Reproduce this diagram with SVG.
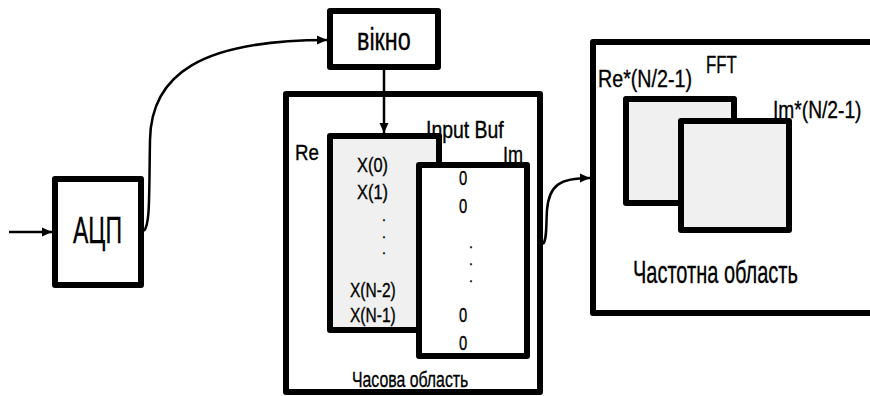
<svg xmlns="http://www.w3.org/2000/svg" width="870" height="396" viewBox="0 0 870 396">
<style>
.box{fill:#fff;stroke:#000;stroke-width:6;stroke-linejoin:round}
.gray{fill:#f0f0f0}
.t{font-family:"Liberation Sans",Arial,sans-serif;fill:#000;stroke:#000;stroke-width:0.35}
.conn{fill:none;stroke:#000;stroke-width:2.5}
</style>
<defs>
<marker id="arr" markerUnits="userSpaceOnUse" markerWidth="12" markerHeight="10" refX="10" refY="5" orient="auto">
<path d="M0,0.5 L10,5 L0,9.5 Z" fill="#000"/>
</marker>
</defs>
<rect width="870" height="396" fill="#fff"/>

<g id="time-domain">
<rect class="box" x="286" y="94" width="254" height="298"/>
<text class="t" font-size="22" transform="matrix(0.72,0,0,1,352,387)">Часова область</text>
</g>

<g id="freq-domain">
<rect class="box" x="593" y="42" width="300" height="271"/>
<text class="t" font-size="31" transform="matrix(0.645,0,0,1,633,283)">Частотна область</text>
</g>

<g id="adc">
<rect class="box" x="55" y="179" width="86" height="106"/>
<text class="t" font-size="36" transform="matrix(0.64,0,0,1,73,243)">АЦП</text>
</g>

<g id="window">
<rect class="box" x="330" y="11" width="108" height="56"/>
<text class="t" font-size="32" transform="matrix(0.73,0,0,1,357,50)">вікно</text>
</g>

<g id="re-buf">
<rect class="box gray" x="330" y="136" width="109" height="194"/>
<text class="t" font-size="21" transform="matrix(0.78,0,0,1,357,172)">X(0)</text>
<text class="t" font-size="21" transform="matrix(0.78,0,0,1,357,199)">X(1)</text>
<text class="t" x="384" y="221" font-size="14" text-anchor="middle">.</text>
<text class="t" x="384" y="238" font-size="14" text-anchor="middle">.</text>
<text class="t" x="384" y="254" font-size="14" text-anchor="middle">.</text>
<text class="t" font-size="21" transform="matrix(0.74,0,0,1,350,297)">X(N-2)</text>
<text class="t" font-size="21" transform="matrix(0.74,0,0,1,350,322)">X(N-1)</text>
</g>

<g id="im-buf">
<rect class="box" x="419" y="165" width="108" height="191"/>
<text class="t" font-size="20" transform="matrix(0.74,0,0,1,459,185)">0</text>
<text class="t" font-size="20" transform="matrix(0.74,0,0,1,459,213)">0</text>
<text class="t" x="471" y="248" font-size="14" text-anchor="middle">.</text>
<text class="t" x="471" y="265" font-size="14" text-anchor="middle">.</text>
<text class="t" x="471" y="282" font-size="14" text-anchor="middle">.</text>
<text class="t" font-size="20" transform="matrix(0.74,0,0,1,459,322)">0</text>
<text class="t" font-size="20" transform="matrix(0.74,0,0,1,459,350)">0</text>
</g>

<g id="buf-labels">
<text class="t" font-size="22" transform="matrix(0.85,0,0,1,295,160)">Re</text>
<text class="t" font-size="23" transform="matrix(0.845,0,0,1,426,138)">Input Buf</text>
<text class="t" font-size="22" transform="matrix(0.82,0,0,1,503,162)">Im</text>
</g>

<g id="re-fft">
<rect class="box gray" x="626" y="99" width="108" height="104"/>
</g>

<g id="im-fft">
<rect class="box gray" x="681" y="121" width="108" height="109"/>
</g>

<g id="fft-labels">
<text class="t" font-size="24" transform="matrix(0.82,0,0,1,598,87)">Re*(N/2-1)</text>
<text class="t" font-size="24" transform="matrix(0.7,0,0,1,706,73)">FFT</text>
<text class="t" font-size="24" transform="matrix(0.8,0,0,1,773,118)">Im*(N/2-1)</text>
</g>

<g id="connectors">
<path class="conn" d="M9,232 L52,232" marker-end="url(#arr)"/>
<path class="conn" d="M144,231 C150,224 149,200 150,140 C151,75 200,40 327,40" marker-end="url(#arr)"/>
<path class="conn" d="M384,69 L384,133" marker-end="url(#arr)"/>
<path class="conn" d="M543,244 C547,240 546,225 547,210 C549,185 560,178 590,178" marker-end="url(#arr)"/>
</g>
</svg>
